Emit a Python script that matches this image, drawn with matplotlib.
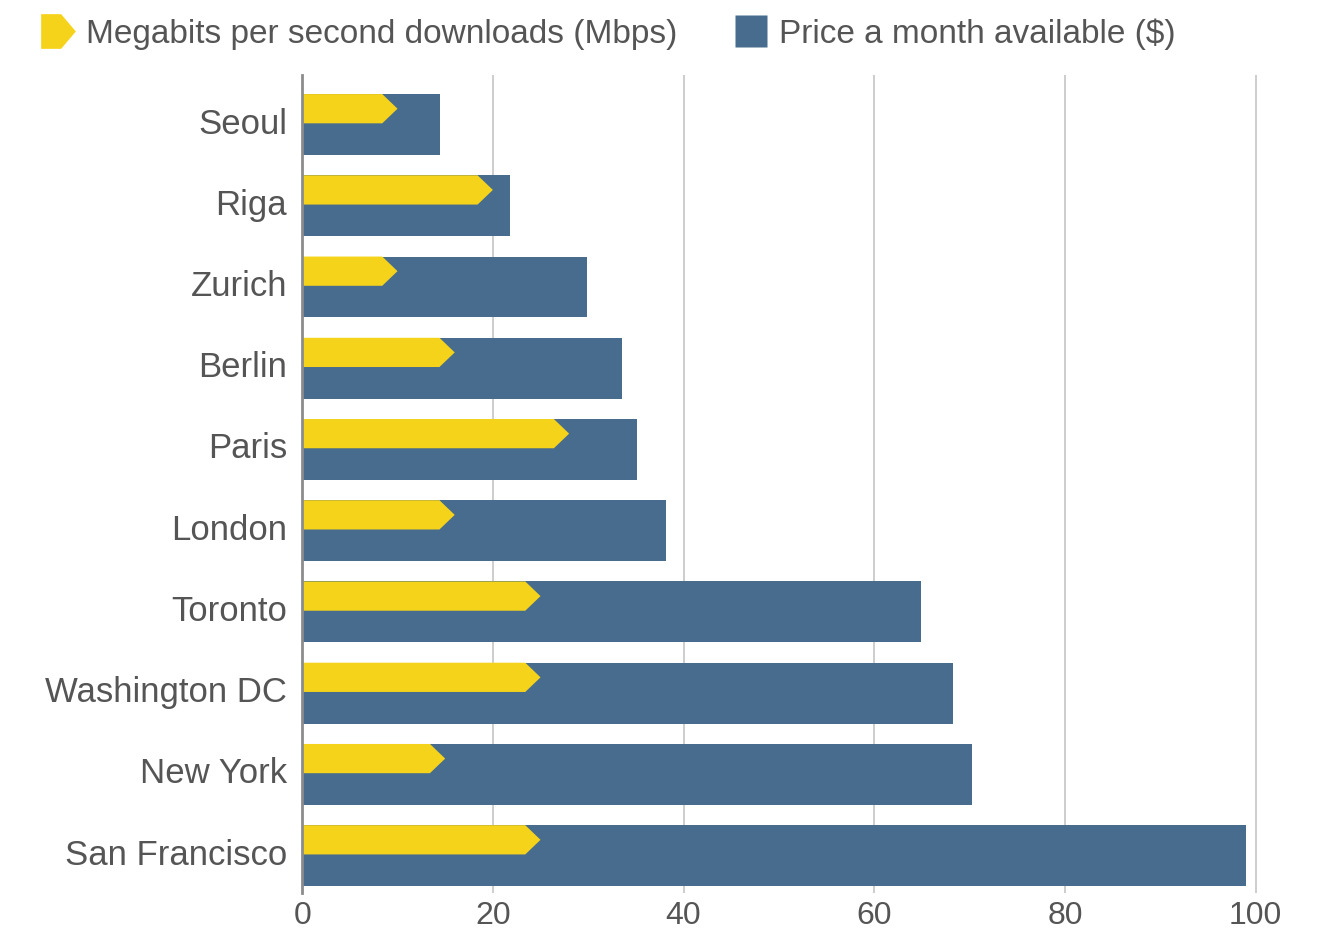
import matplotlib
matplotlib.use('Agg')
import matplotlib.pyplot as plt
import matplotlib.transforms as mtransforms
from matplotlib.patches import Polygon
from matplotlib.lines import Line2D
from matplotlib.path import Path

# data
cities = ['Seoul', 'Riga', 'Zurich', 'Berlin', 'Paris', 'London', 'Toronto',
          'Washington DC', 'New York', 'San Francisco']
mbps = [10, 20, 10, 16, 28, 16, 25, 25, 15, 25]
price = [14.5, 21.8, 29.9, 33.5, 35.1, 38.2, 64.9, 68.3, 70.3, 99.0]
xticks = [0, 20, 40, 60, 80, 100]

yellow = '#f6d31b'
blue = '#476c8d'
grey_txt = '#555555'

plt.rcParams['font.family'] = ['Liberation Sans', 'DejaVu Sans']

fig = plt.figure(figsize=(13.27, 9.35), dpi=100)
ax = fig.add_axes([0.2277, 0.0449, 0.7257, 0.8749])

ypos = list(range(len(cities)))
bar_h = 0.75
ax.barh(ypos, price, height=bar_h, color=blue, zorder=2)

# yellow arrows in the top half of each bar
band = 0.36
notch = 1.6
for y, v in zip(ypos, mbps):
    top = y - bar_h / 2
    bot = top + band
    mid = (top + bot) / 2
    verts = [(0, top), (v - notch, top), (v, mid), (v - notch, bot), (0, bot)]
    ax.add_patch(Polygon(verts, closed=True, facecolor=yellow,
                         edgecolor='none', zorder=3))

ax.set_xlim(0, 101)
ax.set_ylim(9.46, -0.61)
ax.set_yticks(ypos)
ax.set_yticklabels(cities)
ax.set_xticks(xticks)
ax.set_xticklabels([str(t) for t in xticks])
ax.tick_params(axis='y', length=0, pad=11, labelsize=25, labelcolor=grey_txt)
ax.tick_params(axis='x', length=0, pad=6, labelsize=23, labelcolor=grey_txt)

# city names sit a touch above the bar centres
shift = mtransforms.ScaledTranslation(0, 0.04, fig.dpi_scale_trans)
for lab in ax.get_yticklabels():
    lab.set_transform(lab.get_transform() + shift)

ax.xaxis.grid(True, color='#c9c9c9', lw=1.3, zorder=0)
ax.set_axisbelow(True)
for s in ['top', 'right', 'bottom']:
    ax.spines[s].set_visible(False)
ax.spines['left'].set_color('#8c8c8c')
ax.spines['left'].set_linewidth(2)
ax.spines['left'].set_zorder(4)

# legend
arrow_marker = Path([(-1, -1), (0.15, -1), (1, 0), (0.15, 1), (-1, 1), (-1, -1)],
                    [Path.MOVETO, Path.LINETO, Path.LINETO, Path.LINETO,
                     Path.LINETO, Path.CLOSEPOLY])
handles = [
    Line2D([], [], ls='none', marker=arrow_marker, markersize=25,
           markerfacecolor=yellow, markeredgecolor='none'),
    Line2D([], [], ls='none', marker='s', markersize=23,
           markerfacecolor=blue, markeredgecolor='none'),
]
labels = ['Megabits per second downloads (Mbps)', 'Price a month available ($)']
leg = fig.legend(handles, labels, loc='upper left', bbox_to_anchor=(0.017, 0.998),
                 ncol=2, frameon=False, fontsize=24, handlelength=1.1,
                 handletextpad=0.3, columnspacing=1.65, borderpad=0)
for t in leg.get_texts():
    t.set_color(grey_txt)

fig.savefig('out.png', dpi=100)
